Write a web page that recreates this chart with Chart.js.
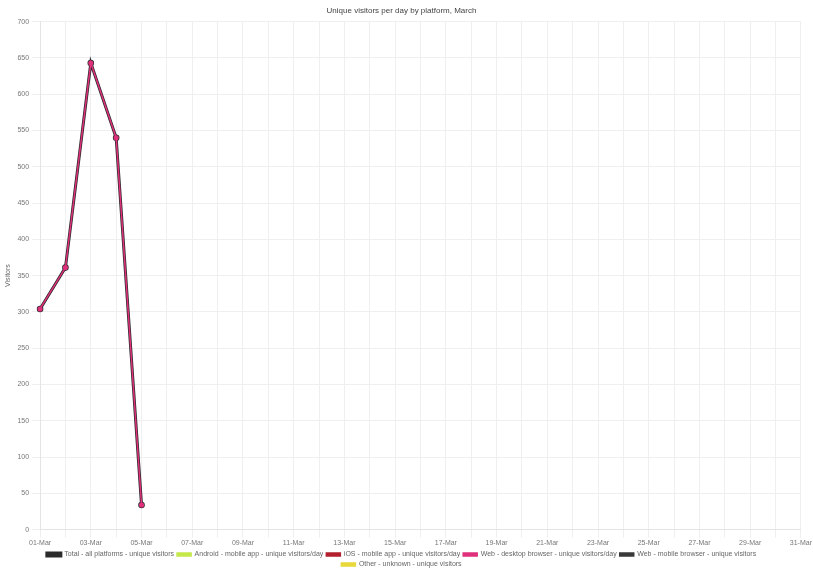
<!DOCTYPE html>
<html>
<head>
<meta charset="utf-8">
<script src="https://cdn.jsdelivr.net/npm/chart.js@4/dist/chart.umd.min.js"></script>
<style>
  html, body { margin: 0; padding: 0; background: #fff; }
  #wrap { width: 813px; height: 570px; }
</style>
</head>
<body>
<div id="wrap"><canvas id="myChart"></canvas></div>
<script>
const days = [
  "01-Mar", "02-Mar", "03-Mar", "04-Mar", "05-Mar", "06-Mar", "07-Mar", "08-Mar",
  "09-Mar", "10-Mar", "11-Mar", "12-Mar", "13-Mar", "14-Mar", "15-Mar", "16-Mar",
  "17-Mar", "18-Mar", "19-Mar", "20-Mar", "21-Mar", "22-Mar", "23-Mar", "24-Mar",
  "25-Mar", "26-Mar", "27-Mar", "28-Mar", "29-Mar", "30-Mar", "31-Mar"
];

const seriesNames = [
  "Total - all platforms - unique visitors",
  "Android - mobile app - unique visitors/day",
  "iOS - mobile app - unique visitors/day",
  "Web - desktop browser - unique visitors/day",
  "Web - mobile browser - unique visitors",
  "Other - unknown - unique visitors"
];

const totalVisitors = [304, 361, 643, 540, 34];
const androidVisitors = [];
const iosVisitors = [];
const desktopVisitors = [304, 361, 643, 540, 34];
const mobileWebVisitors = [];
const otherVisitors = [];

const ctx = document.getElementById("myChart");

// order 0 draws on top, legend is re-sorted by index below
const lineSet = (i, data, color, order, width) => ({
  label: seriesNames[i],
  data: data,
  borderColor: color,
  backgroundColor: color,
  borderWidth: width,
  pointRadius: 1.8,
  pointHoverRadius: 3,
  tension: 0,
  fill: false,
  order: order,
});

new Chart(ctx, {
  type: "line",
  data: {
    labels: days,
    datasets: [
      lineSet(0, totalVisitors, "#2b2b2b", 1, 3),
      lineSet(1, androidVisitors, "#c5e84a", 1, 1.5),
      lineSet(2, iosVisitors, "#b3202e", 1, 1.5),
      lineSet(3, desktopVisitors, "#e0307c", 0, 1.5),
      lineSet(4, mobileWebVisitors, "#3a3a3a", 1, 1.5),
      lineSet(5, otherVisitors, "#e8d83a", 1, 1.5),
    ],
  },
  options: {
    responsive: true,
    maintainAspectRatio: false,
    animation: false,
    layout: { padding: { top: 2, right: 12, left: 2, bottom: -8 } },
    plugins: {
      title: {
        display: true,
        text: "Unique visitors per day by platform, March",
        color: "#444",
        font: { size: 8, weight: "normal" },
        padding: { top: 4, bottom: 6 },
      },
      legend: {
        position: "bottom",
        labels: {
          color: "#666",
          font: { size: 7 },
          boxWidth: 14,
          boxHeight: 3,
          padding: 3,
          sort: (a, b) => a.datasetIndex - b.datasetIndex,
        },
      },
    },
    scales: {
      x: {
        offset: false,
        grid: { color: "#efefef" },
        border: { color: "#e4e4e4" },
        ticks: {
          color: "#777",
          font: { size: 7 },
          maxRotation: 0,
          autoSkip: false,
          padding: 1,
          callback: function (value, index) {
            return index % 2 === 0 ? this.getLabelForValue(value) : "";
          },
        },
      },
      y: {
        min: 0,
        max: 700,
        grid: { color: "#efefef" },
        border: { color: "#e4e4e4" },
        title: {
          display: true,
          text: "Visitors",
          color: "#666",
          font: { size: 7 },
          padding: 2,
        },
        ticks: {
          stepSize: 50,
          color: "#777",
          font: { size: 7 },
        },
      },
    },
  },
});
</script>
</body>
</html>
